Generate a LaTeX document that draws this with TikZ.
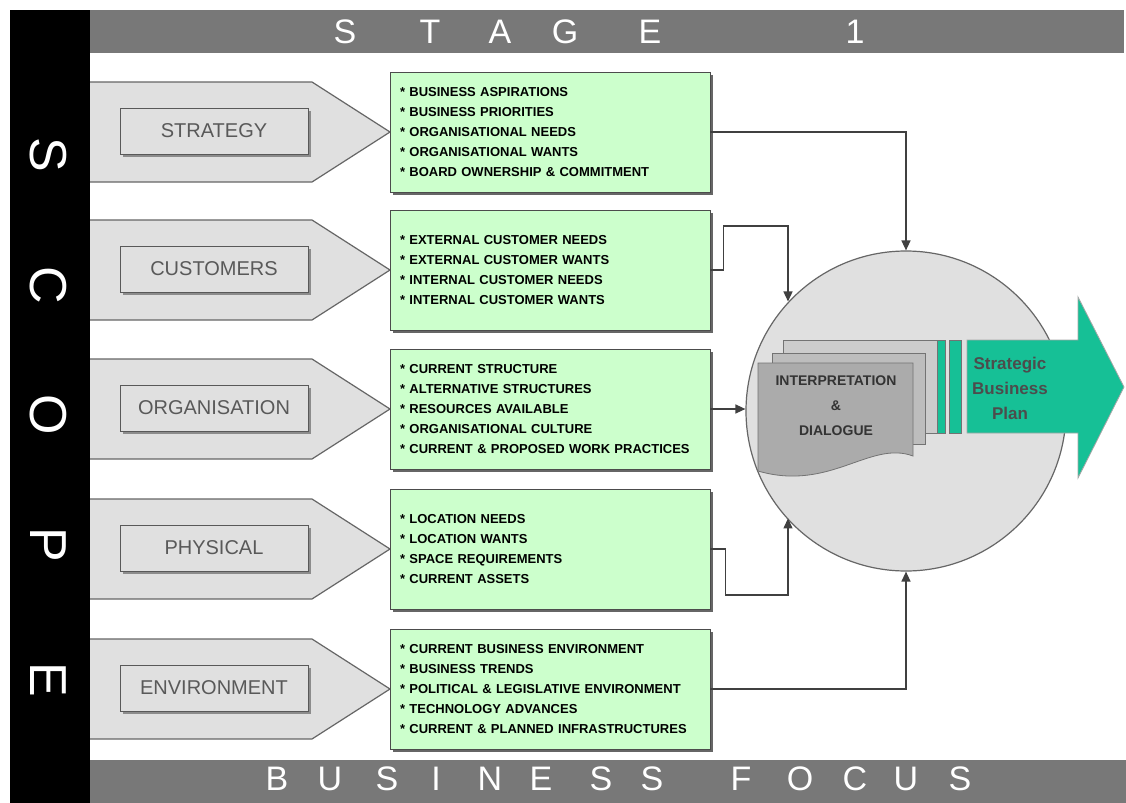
\documentclass[tikz,border=0pt]{standalone}
\usepackage{fontspec}
\setmainfont{Liberation Sans}
\usetikzlibrary{arrows.meta,calc,shadows}
\definecolor{band}{RGB}{120,120,120}
\definecolor{pale}{RGB}{224,224,224}
\definecolor{notegreen}{RGB}{204,255,204}
\definecolor{plangreen}{RGB}{22,192,150}
\tikzset{pin/.style={-{Triangle[length=5pt,width=4.5pt]}, draw=black!75, line width=0.7pt},
  note/.style={draw=black!70, fill=notegreen, text width=150pt, inner xsep=5pt, minimum height=60pt,
    align=left, font=\fontsize{6.5}{10}\selectfont\bfseries,
    drop shadow={shadow xshift=1.5pt, shadow yshift=-1.5pt, fill=black!60, opacity=1}},
  tag/.style={draw=black!65, fill=pale, minimum width=94pt, minimum height=23pt, text=black!65,
    font=\fontsize{10}{12}\selectfont,
    drop shadow={shadow xshift=1.5pt, shadow yshift=-1.5pt, fill=black!45, opacity=1}},
  banner/.style={text=white, font=\fontsize{17}{17}\selectfont}}

\begin{document}
\begin{tikzpicture}[x=0.5pt, y=-0.5pt]
  \useasboundingbox[fill=white] (0,0) rectangle (1126,803);
  % bands top and bottom
  \fill[band] (88,10) rectangle (1124,53);
  \fill[band] (88,760) rectangle (1126,803);
  \foreach \x/\c in {345/S, 430/T, 500/A, 565/G, 650/E, 855/1}
    \node[banner] (top-\x) at (\x,32) {\c};
  \foreach \x/\c in {277/B, 330/U, 387/S, 436/I, 490/N, 541/E, 601/S, 652/S, 741/F, 800/O, 855/C, 906/U, 960/S}
    \node[banner] (foot-\x) at (\x,779) {\c};
  % rows top to bottom
  \foreach \y/\n/\l/\t in {
    132/strat/STRATEGY/{{*} BUSINESS ASPIRATIONS\\{*} BUSINESS PRIORITIES\\{*} ORGANISATIONAL NEEDS\\{*} ORGANISATIONAL WANTS\\{*} BOARD OWNERSHIP \& COMMITMENT},
    270/cust/CUSTOMERS/{{*} EXTERNAL CUSTOMER NEEDS\\{*} EXTERNAL CUSTOMER WANTS\\{*} INTERNAL CUSTOMER NEEDS\\{*} INTERNAL CUSTOMER WANTS},
    409/org/ORGANISATION/{{*} CURRENT STRUCTURE\\{*} ALTERNATIVE STRUCTURES\\{*} RESOURCES AVAILABLE\\{*} ORGANISATIONAL CULTURE\\{*} CURRENT \& PROPOSED WORK PRACTICES},
    549/phys/PHYSICAL/{{*} LOCATION NEEDS\\{*} LOCATION WANTS\\{*} SPACE REQUIREMENTS\\{*} CURRENT ASSETS},
    689/env/ENVIRONMENT/{{*} CURRENT BUSINESS ENVIRONMENT\\{*} BUSINESS TRENDS\\{*} POLITICAL \& LEGISLATIVE ENVIRONMENT\\{*} TECHNOLOGY ADVANCES\\{*} CURRENT \& PLANNED INFRASTRUCTURES}}{
    \draw[fill=pale, draw=black!60, line width=0.6pt] (80,\y-50) -- (312,\y-50) -- (390,\y) -- (312,\y+50) -- (80,\y+50) -- cycle;
    \node[tag] (\n-tag) at (214,\y-1) {\l};
    \node[note] (\n) at (550,\y) {\t};}
  % scope bar
  \fill[black] (10,10) rectangle (90,803);
  \foreach \y/\c in {155/S, 285/C, 415/O, 545/P, 680/E}
    \node[text=white, font=\fontsize{26}{26}\selectfont, rotate=-90] (side-\y) at (48,\y) {\c};
  % hub
  \node[circle, fill=pale, draw=black!60, line width=0.6pt, minimum size=160pt, inner sep=0pt] (hub) at (906,411) {};
  \draw[fill=black!20, draw=black!55] (783,340) rectangle (938,433);
  \draw[fill=black!26, draw=black!55] (772,353) rectangle (925,444);
  \draw[fill=black!33, draw=black!55] (758,363) -- (913,363) -- (913,456) .. controls (870,440) and (830,492) .. (758,471) -- cycle;
  \node[font=\fontsize{7}{12.5}\selectfont\bfseries, text=black!80, align=center] (interp) at (836,406) {INTERPRETATION\\\&\\DIALOGUE};
  \draw[fill=plangreen, draw=black!55] (937,340) rectangle (945,433);
  \draw[fill=plangreen, draw=black!55] (949,340) rectangle (961,433);
  \draw[fill=plangreen, draw=black!35] (967,340) -- (1078,340) -- (1078,297) -- (1124,387) -- (1078,478) -- (1078,433) -- (967,433) -- cycle;
  \node[font=\fontsize{8.5}{12.5}\selectfont\bfseries, text=black!70, align=center] (plan) at (1010,388) {Strategic\\Business\\Plan};
  % feeds into the hub
  \coordinate (cust-top) at (788,226);
  \coordinate (phys-low) at (788,595);
  \draw[pin] (strat.east) -| (hub.north);
  \draw[pin] (cust.east) -- ++(13,0) |- (cust-top) -- (cust-top |- hub.137.5);
  \draw[pin] (org.east) -- (org.east -| hub.west);
  \draw[pin] (phys.east) -- ++(15,0) |- (phys-low) -- (phys-low |- hub.222.5);
  \draw[pin] (env.east) -| (hub.south);
\end{tikzpicture}
\end{document}
